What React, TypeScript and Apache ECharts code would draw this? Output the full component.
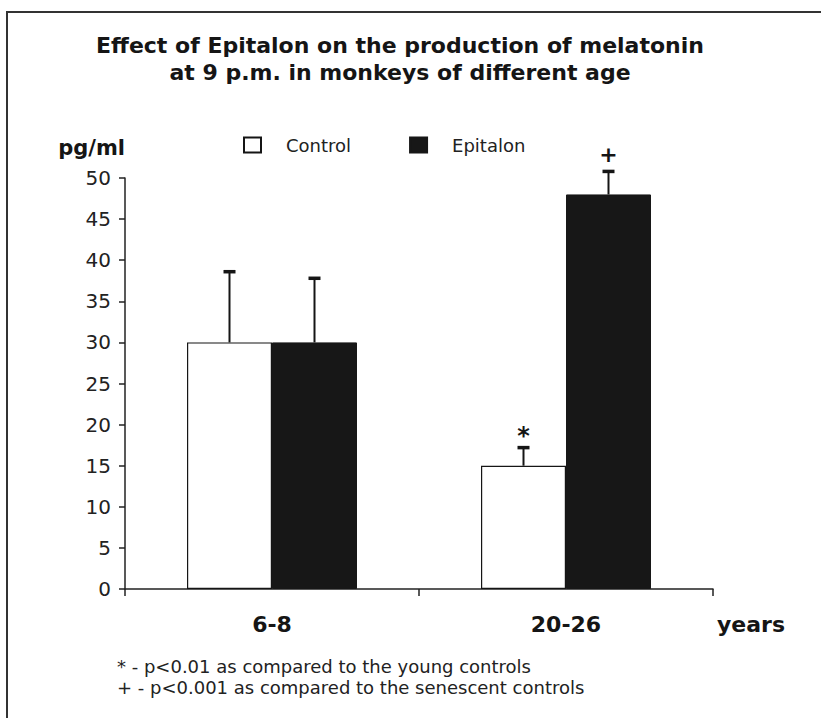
import React, { useEffect, useRef } from "react";
import * as echarts from "echarts";

const categories = ["6-8", "20-26"];
const controlMeans = [30, 15];
const controlErrTop = [38.6, 17.2];
const epitalonMeans = [30, 48];
const epitalonErrTop = [37.8, 50.8];
const controlMarks = ["", "*"];
const epitalonMarks = ["", "+"];
const yTicks = { min: 0, max: 50, interval: 5 };
const titleLines = [
  "Effect of Epitalon on the production of melatonin",
  "at 9 p.m. in monkeys of different age",
];
const footnotes = [
  "* - p<0.01 as compared to the young controls",
  "+ - p<0.001 as compared to the senescent controls",
];

const FONT = "DejaVu Sans";
const BAR_W = 85;

function errSeries(name: string, means: number[], tops: number[], marks: string[], offset: number) {
  return {
    name: name + " SEM",
    type: "custom",
    z: 5,
    data: categories.map((_, i) => [i, means[i], tops[i]]),
    renderItem: (params: any, api: any) => {
      const i = api.value(0);
      const base = api.coord([i, api.value(1)]);
      const top = api.coord([i, api.value(2)]);
      const x = base[0] + offset;
      const children: any[] = [
        { type: "line", shape: { x1: x, y1: base[1], x2: x, y2: top[1] }, style: { stroke: "#151515", lineWidth: 2 } },
        { type: "line", shape: { x1: x - 6, y1: top[1], x2: x + 6, y2: top[1] }, style: { stroke: "#151515", lineWidth: 3.5 } },
      ];
      const m = marks[params.dataIndex];
      if (m) {
        children.push({
          type: "text",
          x: x,
          y: top[1] - (m === "*" ? 0 : 6),
          style: {
            text: m,
            textAlign: "center",
            textVerticalAlign: "bottom",
            font: `bold ${m === "*" ? 24 : 22}px ${FONT}`,
            fill: "#151515",
          },
        });
      }
      return { type: "group", children };
    },
  };
}

export default function App() {
  const ref = useRef<HTMLDivElement>(null);
  useEffect(() => {
    if (!ref.current) return;
    const chart = echarts.init(ref.current, null, { renderer: "svg" });
    chart.setOption({
      animation: false,
      backgroundColor: "#ffffff",
      textStyle: { fontFamily: FONT },
      title: {
        text: titleLines.join("\n"),
        left: 395,
        top: 27,
        textAlign: "center",
        textStyle: { fontFamily: FONT, fontWeight: "bold", fontSize: 22, lineHeight: 27, color: "#151515" },
      },
      legend: {
        left: 238,
        top: 131,
        icon: "rect",
        itemWidth: 17,
        itemHeight: 15,
        itemGap: 58,
        data: ["Control", "Epitalon"],
        textStyle: { fontFamily: FONT, fontSize: 18, color: "#222", padding: [0, 0, 0, 20] },
      },
      grid: { left: 125, right: 108, top: 178, bottom: 129, containLabel: false },
      xAxis: {
        type: "category",
        data: categories,
        boundaryGap: true,
        name: "years",
        nameLocation: "end",
        nameGap: 4,
        nameTextStyle: { fontFamily: FONT, fontWeight: "bold", fontSize: 22, color: "#151515", align: "left", verticalAlign: "top", padding: [24, 0, 0, 0] },
        axisLine: { lineStyle: { color: "#222", width: 1.5 } },
        axisTick: { show: true, alignWithLabel: false, length: 7, lineStyle: { color: "#222", width: 1.5 } },
        axisLabel: { fontFamily: FONT, fontWeight: "bold", fontSize: 22, color: "#151515", margin: 24 },
        splitLine: { show: false },
      },
      yAxis: {
        type: "value",
        min: yTicks.min,
        max: yTicks.max,
        interval: yTicks.interval,
        name: "pg/ml",
        nameLocation: "end",
        nameGap: 30,
        nameTextStyle: { fontFamily: FONT, fontWeight: "bold", fontSize: 21, color: "#151515", align: "right", verticalAlign: "middle" },
        axisLine: { show: true, lineStyle: { color: "#222", width: 1.5 } },
        axisTick: { show: true, length: 6, lineStyle: { color: "#222", width: 1.5 } },
        axisLabel: { fontFamily: FONT, fontSize: 20, color: "#222", margin: 14 },
        splitLine: { show: false },
      },
      series: [
        {
          name: "Control",
          type: "bar",
          data: controlMeans,
          barWidth: BAR_W,
          barGap: "0%",
          itemStyle: { color: "#ffffff", borderColor: "#151515", borderWidth: 1.2 },
        },
        {
          name: "Epitalon",
          type: "bar",
          data: epitalonMeans,
          barWidth: BAR_W,
          barGap: "0%",
          itemStyle: { color: "#171717", borderColor: "#171717", borderWidth: 1 },
        },
        errSeries("Control", controlMeans, controlErrTop, controlMarks, -BAR_W / 2),
        errSeries("Epitalon", epitalonMeans, epitalonErrTop, epitalonMarks, BAR_W / 2),
      ],
      graphic: [
        {
          type: "polyline",
          shape: { points: [[7, 718], [7, 12], [821, 12]] },
          style: { stroke: "#333", lineWidth: 2, fill: "none" },
          silent: true,
        },
        ...footnotes.map((t, i) => ({
          type: "text",
          x: 117,
          y: 666 + i * 21,
          style: { text: t, font: `18px ${FONT}`, fill: "#222", textVerticalAlign: "middle" },
        })),
      ],
    });
    return () => chart.dispose();
  }, []);
  return <div ref={ref} style={{ position: "absolute", left: 0, top: 0, width: 821, height: 718 }} />;
}
